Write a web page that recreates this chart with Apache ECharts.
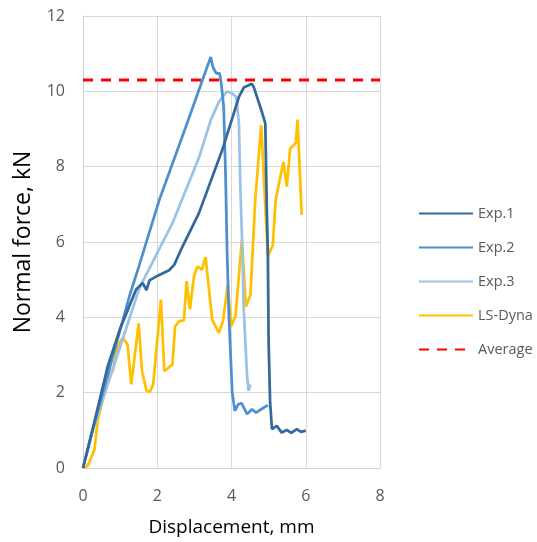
<!DOCTYPE html>
<html>
<head>
<meta charset="utf-8">
<script src="https://cdn.jsdelivr.net/npm/echarts@6/dist/echarts.min.js"></script>
<style>
    html, body { margin: 0; padding: 0; background: #fff; }
    #myChart { width: 537px; height: 542px; }
</style>
</head>
<body>
<div id="myChart"></div>
<script>
// values (displacement mm, force kN)
var exp1X = [0, 0.3, 0.67, 1.0, 1.43, 1.61, 1.71, 1.79, 2.0, 2.32, 2.46, 2.68, 3.12, 3.75, 4.2, 4.33, 4.55, 4.6, 4.82, 4.91, 4.95, 4.98, 5.0, 5.04, 5.09, 5.22, 5.35, 5.49, 5.61, 5.76, 5.87, 6.0];
var exp1Y = [0, 1.2, 2.71, 3.7, 4.74, 4.91, 4.72, 4.98, 5.1, 5.25, 5.4, 5.88, 6.76, 8.44, 9.85, 10.1, 10.2, 10.11, 9.45, 9.15, 6.94, 5.62, 3.33, 1.74, 1.03, 1.12, 0.94, 1.01, 0.93, 1.03, 0.96, 0.99];

var exp2X = [0, 0.3, 0.72, 1.25, 1.52, 2.05, 2.77, 3.44, 3.5, 3.59, 3.68, 3.73, 3.79, 3.84, 3.88, 3.93, 4.02, 4.09, 4.18, 4.27, 4.42, 4.55, 4.66, 4.8, 4.98];
var exp2Y = [0, 1.15, 2.66, 4.56, 5.4, 7.1, 9.06, 10.91, 10.64, 10.48, 10.48, 10.16, 9.58, 7.8, 5.8, 4.03, 2.0, 1.52, 1.69, 1.72, 1.43, 1.56, 1.47, 1.56, 1.67];

var exp3X = [0, 0.27, 1.52, 2.41, 3.13, 3.44, 3.66, 3.88, 4.02, 4.13, 4.2, 4.24, 4.28, 4.33, 4.42, 4.46, 4.51];
var exp3Y = [0, 1.03, 4.78, 6.5, 8.26, 9.23, 9.72, 10.0, 9.94, 9.85, 9.15, 7.38, 6.2, 4.21, 2.44, 2.05, 2.22];

var dynaX = [0, 0.13, 0.31, 0.4, 0.54, 0.7, 0.8, 0.94, 1.07, 1.2, 1.3, 1.5, 1.59, 1.71, 1.8, 1.89, 2.1, 2.19, 2.41, 2.48, 2.59, 2.72, 2.79, 2.88, 2.99, 3.08, 3.2, 3.3, 3.48, 3.66, 3.77, 3.9, 3.99, 4.11, 4.28, 4.39, 4.51, 4.64, 4.8, 4.98, 5.11, 5.19, 5.4, 5.49, 5.58, 5.73, 5.78, 5.89];
var dynaY = [0, 0.06, 0.5, 1.3, 1.83, 2.53, 2.57, 3.24, 3.46, 3.28, 2.22, 3.84, 2.57, 2.05, 2.02, 2.22, 4.47, 2.57, 2.75, 3.75, 3.9, 3.92, 4.96, 4.21, 5.09, 5.35, 5.26, 5.6, 3.94, 3.59, 3.9, 4.87, 3.76, 4.05, 6.06, 4.29, 4.6, 7.12, 9.1, 5.63, 5.9, 7.12, 8.13, 7.47, 8.48, 8.62, 9.25, 6.72];

var avgX = [0, 8];
var avgY = [10.3, 10.3];

var names = ['Exp.1', 'Exp.2', 'Exp.3', 'LS-Dyna', 'Average'];
var colors = ['#336a9b', '#4d8fcf', '#9cc2e5', '#ffc000', '#ff0000'];

function pairs(xs, ys) {
    var out = [];
    for (var i = 0; i < xs.length; i++) {
        out.push([xs[i], ys[i]]);
    }
    return out;
}

var seriesData = [
    pairs(exp1X, exp1Y),
    pairs(exp2X, exp2Y),
    pairs(exp3X, exp3Y),
    pairs(dynaX, dynaY),
    pairs(avgX, avgY)
];

var series = [];
for (var i = 0; i < names.length; i++) {
    series.push({
        name: names[i],
        type: 'line',
        data: seriesData[i],
        symbol: 'none',
        smooth: false,
        animation: false,
        color: colors[i],
        lineStyle: {
            color: colors[i],
            width: i == 4 ? 3 : 2.75,
            type: i == 4 ? [10, 8] : 'solid'
        },
        z: i == 4 ? 1 : 5 - i
    });
}

var myChart = echarts.init(document.getElementById("myChart"));
var option = {
    backgroundColor: '#fff',
    textStyle: { fontFamily: 'Open Sans' },
    grid: {
        left: 83,
        right: 157,
        top: 16,
        bottom: 73
    },
    legend: {
        orient: 'vertical',
        left: 413,
        top: 201,
        itemWidth: 54,
        itemHeight: 14,
        itemGap: 19,
        data: names,
        itemStyle: { opacity: 0 },
        textStyle: {
            fontFamily: 'Open Sans',
            fontSize: 14.5,
            color: '#595959'
        }
    },
    xAxis: {
        type: 'value',
        min: 0,
        max: 8,
        interval: 2,
        name: 'Displacement, mm',
        nameLocation: 'middle',
        nameGap: 50,
        nameTextStyle: { fontFamily: 'Open Sans', fontSize: 19, color: '#000' },
        axisLine: { show: true, lineStyle: { color: '#d0d0d0' } },
        axisTick: { show: false },
        axisLabel: { margin: 20, fontSize: 16, color: '#595959', fontFamily: 'Open Sans' },
        splitLine: { show: true, lineStyle: { color: '#d9d9d9' } }
    },
    yAxis: {
        type: 'value',
        min: 0,
        max: 12,
        interval: 2,
        name: 'Normal force, kN',
        nameLocation: 'middle',
        nameRotate: 90,
        nameGap: 48,
        nameTextStyle: { fontFamily: 'Open Sans', fontSize: 23, color: '#000' },
        axisLine: { show: true, lineStyle: { color: '#d0d0d0' } },
        axisTick: { show: false },
        axisLabel: { margin: 18, fontSize: 16, color: '#595959', fontFamily: 'Open Sans' },
        splitLine: { show: true, lineStyle: { color: '#d9d9d9' } }
    },
    series: series
};
myChart.setOption(option);
</script>
</body>
</html>
